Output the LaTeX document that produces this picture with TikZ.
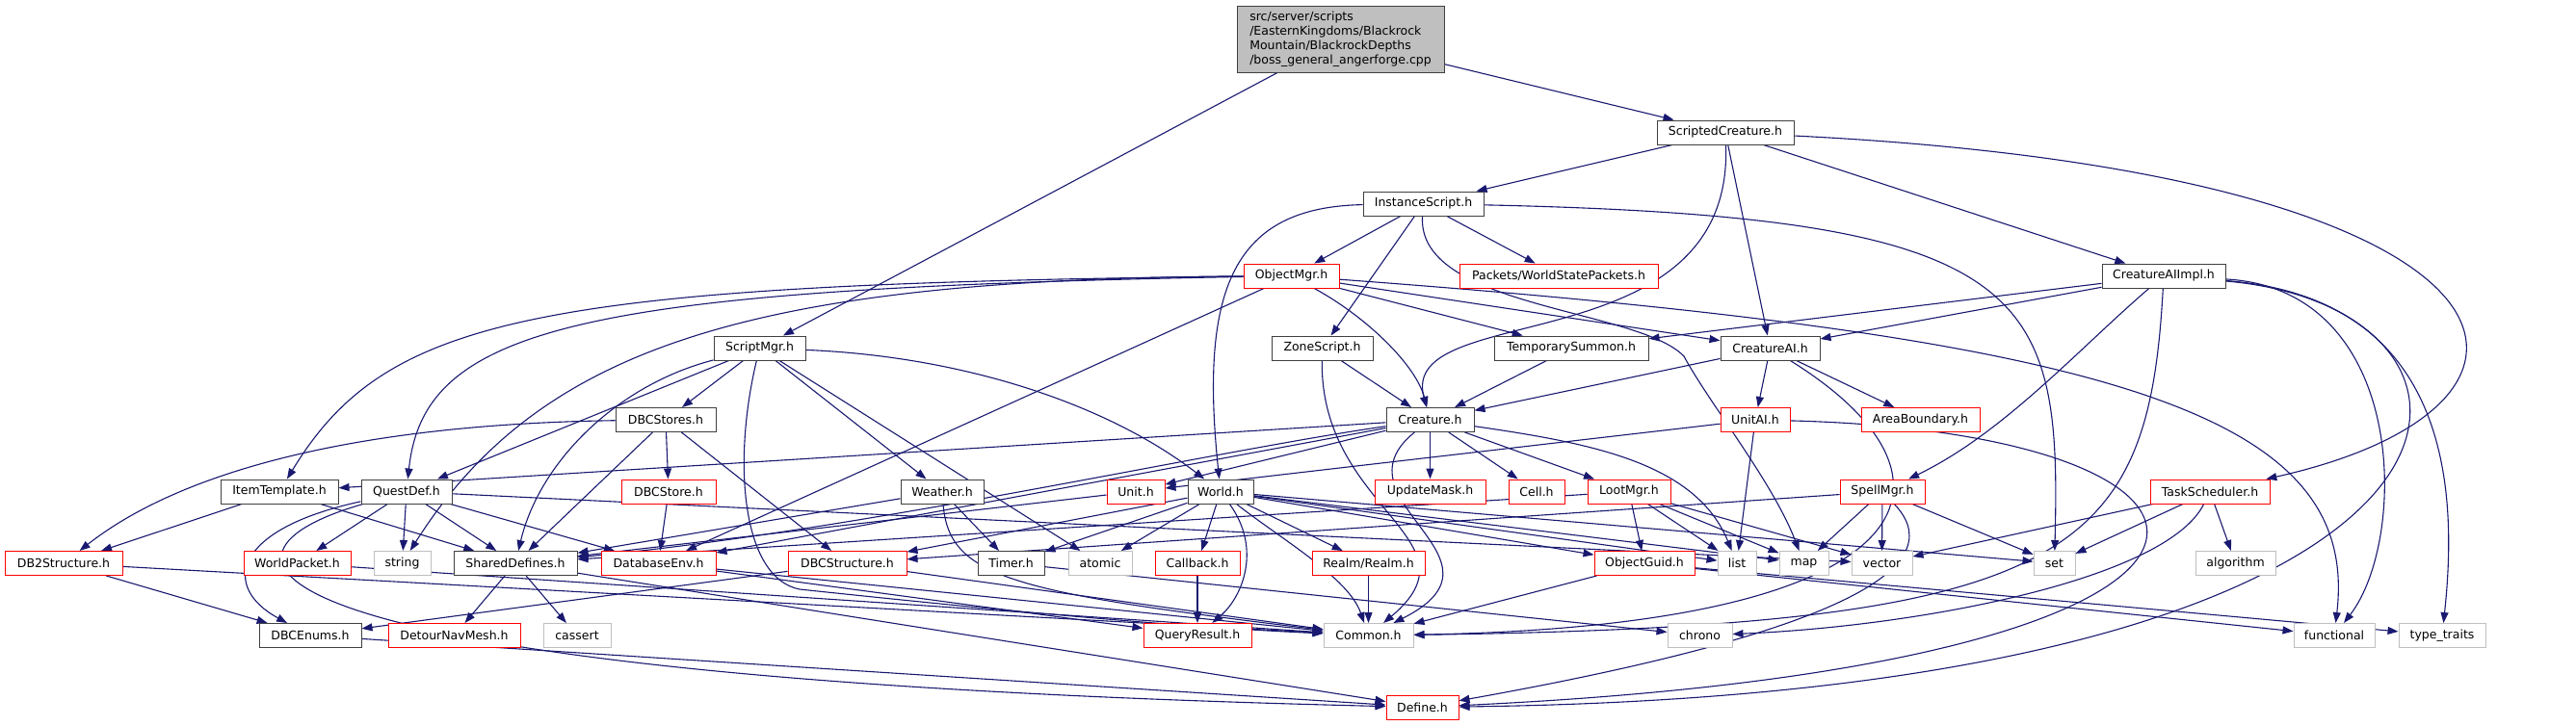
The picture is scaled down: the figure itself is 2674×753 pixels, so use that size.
\documentclass[tikz,border=0pt]{standalone}
\usepackage{fontspec}
\setmainfont{DejaVu Sans}
\usetikzlibrary{arrows.meta,backgrounds}
\definecolor{edgeblue}{HTML}{191970}
\definecolor{truncred}{HTML}{FF0000}
\definecolor{sysgray}{HTML}{BFBFBF}
\tikzset{
  file/.style={draw=black!75, fill=white, line width=1pt, minimum height=25pt,
    inner sep=0pt, font=\fontsize{12.5}{15}\selectfont},
  trunc/.style={file, draw=truncred},
  sysfile/.style={file, draw=sysgray},
  rootfile/.style={file, fill=sysgray, align=left},
  dep/.style={draw=edgeblue, line width=1.1pt, -{Triangle[length=11pt,width=8pt]}},
}
\begin{document}
\begin{tikzpicture}[x=1pt,y=-1pt]
\useasboundingbox (0,0) rectangle (2674,753);
%the file itself
\node[rootfile, minimum width=215pt, minimum height=69pt] (root) at (1391.5,40.5)
  {src/server/scripts\\/EasternKingdoms/Blackrock\\Mountain/BlackrockDepths\\/boss\_general\_angerforge.cpp};
%row 1 and 2
\node[file, minimum width=142pt] (sc) at (1791,137.5) {ScriptedCreature.h};
\node[file, minimum width=125pt] (is) at (1477.5,211.5) {InstanceScript.h};
%row 3
\node[trunc, minimum width=99pt] (om) at (1340.5,286.5) {ObjectMgr.h};
\node[trunc, minimum width=206pt] (wsp) at (1618,286.5) {Packets/WorldStatePackets.h};
\node[file, minimum width=128pt] (caimpl) at (2246,286.5) {CreatureAIImpl.h};
%row 4
\node[file, minimum width=95pt] (sm) at (788.5,361.5) {ScriptMgr.h};
\node[file, minimum width=105pt] (zs) at (1372.5,361.5) {ZoneScript.h};
\node[file, minimum width=160pt] (tsum) at (1631,361.5) {TemporarySummon.h};
\node[file, minimum width=103pt] (cai) at (1837.5,361.5) {CreatureAI.h};
%row 5
\node[file, minimum width=104pt] (dbcs) at (691,436) {DBCStores.h};
\node[file, minimum width=91pt] (cr) at (1484.5,436) {Creature.h};
\node[trunc, minimum width=72pt] (uai) at (1822,436) {UnitAI.h};
\node[trunc, minimum width=123pt] (ab) at (1993.5,436) {AreaBoundary.h};
%row 6
\node[file, minimum width=122pt] (itmp) at (290,510.5) {ItemTemplate.h};
\node[file, minimum width=94pt] (qd) at (422,510.5) {QuestDef.h};
\node[trunc, minimum width=98pt] (dbcst) at (694,510.5) {DBCStore.h};
\node[file, minimum width=86pt] (wth) at (978,510.5) {Weather.h};
\node[trunc, minimum width=60pt] (unit) at (1179,510.5) {Unit.h};
\node[file, minimum width=68pt] (wld) at (1267,510.5) {World.h};
\node[trunc, minimum width=115pt] (upd) at (1484.5,510.5) {UpdateMask.h};
\node[trunc, minimum width=58pt] (cell) at (1595,510.5) {Cell.h};
\node[trunc, minimum width=86pt] (loot) at (1691,510.5) {LootMgr.h};
\node[trunc, minimum width=88pt] (spell) at (1954,510.5) {SpellMgr.h};
\node[trunc, minimum width=124pt] (tasks) at (2294,510.5) {TaskScheduler.h};
%row 7
\node[trunc, minimum width=122pt] (db2) at (66,585) {DB2Structure.h};
\node[trunc, minimum width=111pt] (wpkt) at (308.5,585) {WorldPacket.h};
\node[sysfile, minimum width=59pt] (str) at (417.5,585) {string};
\node[file, minimum width=128pt] (shd) at (535,585) {SharedDefines.h};
\node[trunc, minimum width=119pt] (dbenv) at (683.5,585) {DatabaseEnv.h};
\node[trunc, minimum width=123pt] (dbcstr) at (879.5,585) {DBCStructure.h};
\node[file, minimum width=69pt] (tmr) at (1049.5,585) {Timer.h};
\node[sysfile, minimum width=66pt] (atom) at (1142,585) {atomic};
\node[trunc, minimum width=88pt] (cb) at (1243,585) {Callback.h};
\node[trunc, minimum width=117pt] (realm) at (1420.5,585) {Realm/Realm.h};
\node[trunc, minimum width=104pt] (guid) at (1707,585) {ObjectGuid.h};
\node[sysfile, minimum width=40pt] (lst) at (1803,585) {list};
\node[sysfile, minimum width=51pt] (mp) at (1872.5,585) {map};
\node[sysfile, minimum width=63pt] (vec) at (1953.5,585) {vector};
\node[sysfile, minimum width=43pt] (st) at (2132.5,585) {set};
\node[sysfile, minimum width=83pt] (algo) at (2320.5,585) {algorithm};
%row 8
\node[file, minimum width=106pt] (dbce) at (322,660) {DBCEnums.h};
\node[trunc, minimum width=137pt] (detour) at (471.5,660) {DetourNavMesh.h};
\node[sysfile, minimum width=70pt] (cass) at (599,660) {cassert};
\node[trunc, minimum width=112pt] (qres) at (1243,660) {QueryResult.h};
\node[sysfile, minimum width=93pt] (com) at (1420.5,660) {Common.h};
\node[sysfile, minimum width=67pt] (chr) at (1764.5,660) {chrono};
\node[sysfile, minimum width=84pt] (func) at (2423,660) {functional};
\node[sysfile, minimum width=90pt] (tt) at (2535,660) {type\_traits};
%row 9
\node[trunc, minimum width=75pt] (def) at (1476.5,734.5) {Define.h};
\begin{scope}[on background layer]
%straight includes
\foreach \a/\b in {root/sc, root/sm, sc/is, sc/cai, sc/caimpl, is/om, is/zs, is/wsp,
    om/dbenv, om/tsum, om/cai, caimpl/tsum, caimpl/cai,
    sm/qd, sm/dbcs, sm/wth, sm/atom, zs/cr, tsum/cr, cai/cr, cai/uai, cai/ab,
    dbcs/dbcst, dbcs/shd, dbcs/dbcstr, dbcst/dbenv, itmp/db2, itmp/shd,
    qd/wpkt, qd/str, qd/shd, qd/dbenv, qd/vec, cr/itmp, cr/unit,
    cr/dbenv, cr/upd, cr/cell, cr/loot, uai/unit, uai/lst, wth/shd, wth/tmr,
    unit/shd, wld/tmr, wld/atom, wld/cb, wld/realm, wld/guid, wld/lst, wld/mp,
    wld/st, wld/dbcstr, loot/guid, loot/lst, loot/mp, loot/vec, loot/shd,
    spell/mp, spell/vec, spell/st, spell/dbcstr, tasks/algo,
    tasks/st, tasks/vec, db2/dbce, db2/com, wpkt/com, shd/detour, shd/cass,
    shd/def, dbenv/qres, dbenv/com, dbcstr/dbce, dbcstr/com, tmr/chr,
    cb/qres, realm/com, guid/com, guid/func, guid/tt, dbce/def}
  \draw[dep] (\a) -- (\b);
%curved includes
\draw[dep] (sc) .. controls (1800,380) and (1450,310) .. (cr);
\draw[dep] (sc) .. controls (2650,180) and (2700,420) .. (tasks);
\draw[dep] (is) .. controls (1280,215) and (1245,300) .. (wld);
\draw[dep] (is) .. controls (1470,320) and (1700,320) .. (1748,370)
  .. controls (1775,420) and (1840,500) .. (mp);
\draw[dep] (is) .. controls (2110,225) and (2140,300) .. (st);
\draw[dep] (om) .. controls (550,295) and (400,330) .. (itmp);
\draw[dep] (om) .. controls (600,300) and (440,340) .. (qd);
\draw[dep] (om) .. controls (780,290) and (560,360) .. (str);
\draw[dep] (om) .. controls (1420,330) and (1470,380) .. (cr);
\draw[dep] (om) .. controls (2200,350) and (2450,430) .. (func);
\draw[dep] (caimpl) .. controls (2160,360) and (2080,450) .. (spell);
\draw[dep] (caimpl) .. controls (2230,580) and (2150,650) .. (com);
\draw[dep] (caimpl) .. controls (2500,300) and (2500,560) .. (func);
\draw[dep] (caimpl) .. controls (2550,310) and (2550,520) .. (tt);
\draw[dep] (caimpl) .. controls (2640,320) and (2640,720) .. (def);
\draw[dep] (sm) .. controls (640,400) and (560,480) .. (shd);
\draw[dep] (sm) .. controls (1000,370) and (1150,420) .. (wld);
\draw[dep] (sm) .. controls (760,480) and (770,600) .. (830,612)
  .. controls (1000,630) and (1200,650) .. (com);
\draw[dep] (dbcs) .. controls (400,440) and (200,480) .. (db2);
\draw[dep] (zs) .. controls (1370,530) and (1540,560) .. (com);
\draw[dep] (cr) .. controls (1380,520) and (1580,580) .. (com);
\draw[dep] (cr) .. controls (1650,460) and (1760,480) .. (lst);
\draw[dep] (cr) .. controls (1250,470) and (900,550) .. (shd);
\draw[dep] (cai) .. controls (2060,500) and (2000,650) .. (com);
\draw[dep] (uai) .. controls (2380,450) and (2420,690) .. (def);
\draw[dep] (qd) .. controls (240,550) and (230,610) .. (dbce);
\draw[dep] (qd) .. controls (180,580) and (250,705) .. (def);
\draw[dep] (wth) .. controls (985,600) and (1050,615) .. (com);
\draw[dep] (wld) .. controls (1310,570) and (1290,620) .. (qres);
\draw[dep] (wld) .. controls (1330,560) and (1400,600) .. (com);
\draw[dep] (spell) .. controls (2020,580) and (1950,650) .. (def);
\draw[dep] (tasks) .. controls (2250,600) and (2000,650) .. (chr);
\end{scope}
\end{tikzpicture}
\end{document}
